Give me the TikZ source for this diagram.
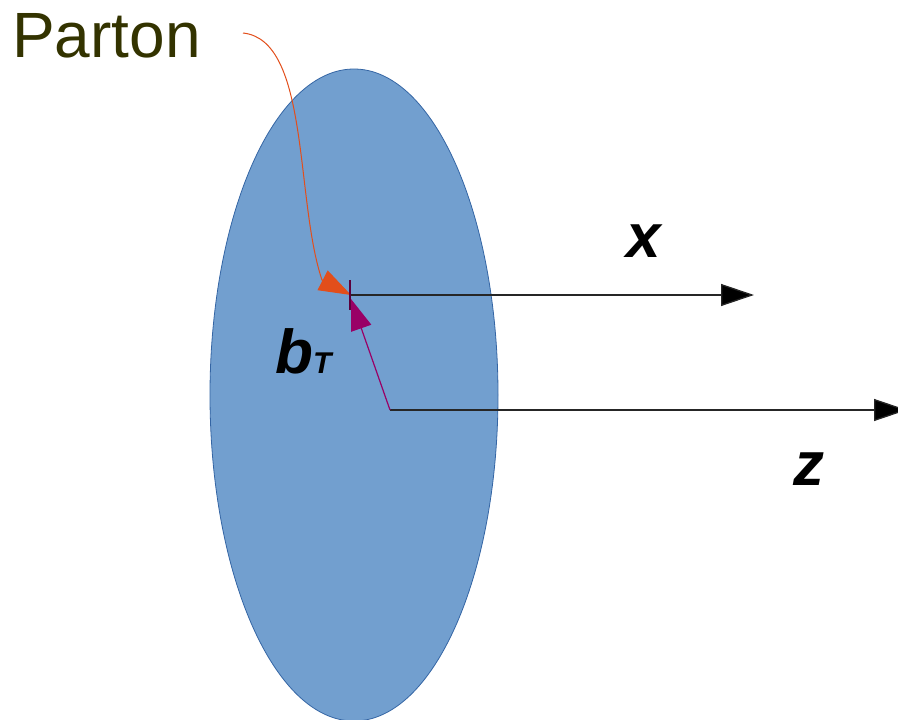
\documentclass[tikz,border=0pt]{standalone}
\usepackage{fontspec}
\setmainfont{Liberation Sans}
\usetikzlibrary{arrows.meta}
\definecolor{fillblue}{HTML}{729FCF}
\definecolor{edgeblue}{HTML}{3465A4}
\definecolor{partonolive}{HTML}{333300}
\definecolor{orng}{RGB}{226,78,27}
\definecolor{purp}{RGB}{153,0,102}
\begin{document}
\begin{tikzpicture}[x=1pt,y=-1pt,
  axis/.style={draw=black!85, line width=1.3pt, -{Triangle[length=33pt,width=22pt,fill=black]}},
  lbl/.style={font=\fontsize{62}{62}\selectfont\bfseries\itshape, inner sep=0pt, anchor=base west}]
\useasboundingbox (0,0) rectangle (898,720);
\fill[fillblue, draw=edgeblue, line width=0.8pt] (354,395) ellipse [x radius=144, y radius=326];
\coordinate (P) at (351,295);
\coordinate (Ptip) at (351,299);
\coordinate (O) at (390,410);
\coordinate (xend) at (754,295);
\coordinate (zend) at (907,410);
\coordinate (start) at (243,33);
\coordinate (headbase) at (322,280);
\coordinate (tickt) at (350,280);
\coordinate (tickb) at (350,310);
\draw[axis] (P) -- (xend);
\draw[axis] (O) -- (zend);
\draw[purp, line width=1.2pt, -{Triangle[length=31pt,width=21pt]}] (O) -- (Ptip);
\draw[orng, line width=1pt, -{Triangle[length=32pt,width=22pt]}] (start) .. controls (310,40) and (295,200) .. (headbase) -- (P);
\draw[purp!60!black, line width=1.2pt] (tickt) -- (tickb);
\node[font=\fontsize{64}{64}\selectfont, text=partonolive, inner sep=0pt, anchor=base west] (parton) at (12,57) {Parton};
\node[lbl] (xl) at (626,257) {x};
\node[lbl] (zl) at (793,485) {z};
\node[lbl] (bt) at (275,373) {b{\fontsize{30}{30}\selectfont T}};
\end{tikzpicture}
\end{document}
